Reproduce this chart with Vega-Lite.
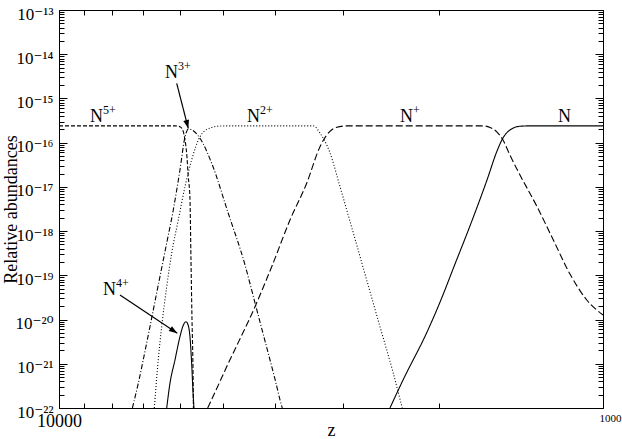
{
  "$schema": "https://vega.github.io/schema/vega-lite/v6.json",
  "width": 544,
  "height": 398,
  "autosize": {"type": "none"},
  "padding": {"left": 59, "top": 10, "right": 19, "bottom": 31},
  "background": "white",
  "config": {
    "view": {"stroke": null},
    "font": "Liberation Serif",
    "axis": {
      "grid": false,
      "domainColor": "black",
      "domainWidth": 1,
      "tickColor": "black",
      "tickWidth": 1,
      "labelColor": "black",
      "titleColor": "black",
      "labelFont": "Liberation Serif, DejaVu Serif",
      "titleFont": "Liberation Serif",
      "titleFontWeight": "normal"
    }
  },
  "datasets": {
    "curves": [
      {"ion": "N", "z": 2464, "y": 1e-22},
      {"ion": "N", "z": 2331, "y": 4.3e-22},
      {"ion": "N", "z": 2106, "y": 5.23e-21},
      {"ion": "N", "z": 1993, "y": 2.49e-20},
      {"ion": "N", "z": 1871, "y": 1.8e-19},
      {"ion": "N", "z": 1756, "y": 1.31e-18},
      {"ion": "N", "z": 1634, "y": 1.43e-17},
      {"ion": "N", "z": 1566, "y": 6.48e-17},
      {"ion": "N", "z": 1527, "y": 1.28e-16},
      {"ion": "N", "z": 1483, "y": 1.93e-16},
      {"ion": "N", "z": 1421, "y": 2.35e-16},
      {"ion": "N", "z": 1362, "y": 2.4e-16},
      {"ion": "N", "z": 1000, "y": 2.4e-16},

      {"ion": "N+", "z": 5330, "y": 1e-22},
      {"ion": "N+", "z": 5316, "y": 1.07e-22},
      {"ion": "N+", "z": 4885, "y": 1.02e-21},
      {"ion": "N+", "z": 4362, "y": 1.95e-20},
      {"ion": "N+", "z": 4064, "y": 1.57e-19},
      {"ion": "N+", "z": 3762, "y": 1.78e-18},
      {"ion": "N+", "z": 3505, "y": 1.21e-17},
      {"ion": "N+", "z": 3313, "y": 8.11e-17},
      {"ion": "N+", "z": 3220, "y": 1.49e-16},
      {"ion": "N+", "z": 3086, "y": 2.23e-16},
      {"ion": "N+", "z": 2958, "y": 2.4e-16},
      {"ion": "N+", "z": 1662, "y": 2.4e-16},
      {"ion": "N+", "z": 1613, "y": 2.2e-16},
      {"ion": "N+", "z": 1566, "y": 1.74e-16},
      {"ion": "N+", "z": 1527, "y": 1.15e-16},
      {"ion": "N+", "z": 1483, "y": 5.26e-17},
      {"ion": "N+", "z": 1421, "y": 1.86e-17},
      {"ion": "N+", "z": 1324, "y": 3.7e-18},
      {"ion": "N+", "z": 1234, "y": 6.29e-19},
      {"ion": "N+", "z": 1150, "y": 1.07e-19},
      {"ion": "N+", "z": 1071, "y": 2.77e-20},
      {"ion": "N+", "z": 1000, "y": 1.27e-20},

      {"ion": "N2+", "z": 6680, "y": 1e-22},
      {"ion": "N2+", "z": 6570, "y": 1.22e-21},
      {"ion": "N2+", "z": 6475, "y": 6.89e-21},
      {"ion": "N2+", "z": 6339, "y": 5.53e-20},
      {"ion": "N2+", "z": 6206, "y": 3.2e-19},
      {"ion": "N2+", "z": 6036, "y": 1.78e-18},
      {"ion": "N2+", "z": 5867, "y": 1.01e-17},
      {"ion": "N2+", "z": 5704, "y": 4.06e-17},
      {"ion": "N2+", "z": 5507, "y": 1.36e-16},
      {"ion": "N2+", "z": 5278, "y": 2.15e-16},
      {"ion": "N2+", "z": 5058, "y": 2.38e-16},
      {"ion": "N2+", "z": 4850, "y": 2.4e-16},
      {"ion": "N2+", "z": 3408, "y": 2.4e-16},
      {"ion": "N2+", "z": 3313, "y": 1.65e-16},
      {"ion": "N2+", "z": 3175, "y": 5.84e-17},
      {"ion": "N2+", "z": 3044, "y": 1.01e-17},
      {"ion": "N2+", "z": 2877, "y": 9.07e-19},
      {"ion": "N2+", "z": 2719, "y": 7.84e-20},
      {"ion": "N2+", "z": 2570, "y": 6.89e-21},
      {"ion": "N2+", "z": 2430, "y": 6.19e-22},
      {"ion": "N2+", "z": 2339, "y": 1e-22},

      {"ion": "N3+", "z": 7330, "y": 1e-22},
      {"ion": "N3+", "z": 7149, "y": 3.62e-22},
      {"ion": "N3+", "z": 6900, "y": 2.95e-21},
      {"ion": "N3+", "z": 6614, "y": 3.99e-20},
      {"ion": "N3+", "z": 6339, "y": 5.38e-19},
      {"ion": "N3+", "z": 6165, "y": 3.0e-18},
      {"ion": "N3+", "z": 5993, "y": 2.41e-17},
      {"ion": "N3+", "z": 5867, "y": 1.34e-16},
      {"ion": "N3+", "z": 5780, "y": 2.04e-16},
      {"ion": "N3+", "z": 5507, "y": 1.26e-16},
      {"ion": "N3+", "z": 5240, "y": 3.42e-17},
      {"ion": "N3+", "z": 4885, "y": 2.53e-18},
      {"ion": "N3+", "z": 4550, "y": 1.71e-19},
      {"ion": "N3+", "z": 4362, "y": 2.37e-20},
      {"ion": "N3+", "z": 4181, "y": 3.27e-21},
      {"ion": "N3+", "z": 4009, "y": 4.53e-22},
      {"ion": "N3+", "z": 3891, "y": 1.05e-22},
      {"ion": "N3+", "z": 3886, "y": 1e-22},

      {"ion": "N4+", "z": 6339, "y": 1e-22},
      {"ion": "N4+", "z": 6252, "y": 3.62e-22},
      {"ion": "N4+", "z": 6121, "y": 1.22e-21},
      {"ion": "N4+", "z": 5993, "y": 4.1e-21},
      {"ion": "N4+", "z": 5917, "y": 7.15e-21},
      {"ion": "N4+", "z": 5842, "y": 8.94e-21},
      {"ion": "N4+", "z": 5780, "y": 7.0e-21},
      {"ion": "N4+", "z": 5745, "y": 4.1e-21},
      {"ion": "N4+", "z": 5704, "y": 1.04e-21},
      {"ion": "N4+", "z": 5665, "y": 1.8e-22},
      {"ion": "N4+", "z": 5648, "y": 1e-22},

      {"ion": "N5+", "z": 10000, "y": 2.4e-16},
      {"ion": "N5+", "z": 6121, "y": 2.4e-16},
      {"ion": "N5+", "z": 5993, "y": 2.3e-16},
      {"ion": "N5+", "z": 5909, "y": 1.77e-16},
      {"ion": "N5+", "z": 5867, "y": 1.15e-16},
      {"ion": "N5+", "z": 5826, "y": 5.84e-17},
      {"ion": "N5+", "z": 5786, "y": 1.7e-17},
      {"ion": "N5+", "z": 5745, "y": 5.61e-18},
      {"ion": "N5+", "z": 5720, "y": 2.22e-19},
      {"ion": "N5+", "z": 5695, "y": 9.77e-21},
      {"ion": "N5+", "z": 5671, "y": 7.23e-22},
      {"ion": "N5+", "z": 5661, "y": 1e-22}
    ],
    "labels": [
      {"base": "N", "sup": "5+", "z": 8770, "y": 2.93e-16},
      {"base": "N", "sup": "3+", "z": 6385, "y": 2.9e-15},
      {"base": "N", "sup": "2+", "z": 4512, "y": 2.93e-16},
      {"base": "N", "sup": "+", "z": 2361, "y": 2.93e-16},
      {"base": "N", "sup": "", "z": 1210, "y": 2.93e-16},
      {"base": "N", "sup": "4+", "z": 8300, "y": 3.59e-20}
    ],
    "arrows": [
      {"arrow": "N3+", "end": "tail", "z": 6076, "y": 2.2e-15},
      {"arrow": "N3+", "end": "tip", "z": 5786, "y": 2.11e-16},
      {"arrow": "N4+", "end": "tail", "z": 7725, "y": 3.59e-20},
      {"arrow": "N4+", "end": "tip", "z": 6061, "y": 4.89e-21}
    ]
  },
  "resolve": {"axis": {"x": "independent", "y": "independent"}},
  "layer": [
    {
      "data": {"name": "curves"},
      "mark": {"type": "line", "interpolate": "monotone", "clip": true, "strokeWidth": 1.1, "color": "black"},
      "encoding": {
        "x": {
          "field": "z", "type": "quantitative",
          "scale": {"type": "log", "domain": [1000, 10000], "reverse": true, "nice": false},
          "axis": {
            "orient": "bottom",
            "values": [10000, 9000, 8000, 7000, 6000, 5000, 4000, 3000, 2000, 1000],
            "labelExpr": "datum.value == 10000 ? '10000' : (datum.value == 1000 ? '1000' : '')",
            "labelFontSize": {"condition": {"test": "datum.value == 1000", "value": 11}, "value": 18},
            "labelOffset": {"condition": {"test": "datum.value == 1000", "value": 7}, "value": 0},
            "tickSize": -5,
            "labelPadding": 9,
            "labelOverlap": false,
            "labelFlush": false,
            "labelBound": false,
            "title": "z",
            "titleFontSize": 18,
            "titleY": 27,
            "titleBaseline": "alphabetic"
          }
        },
        "y": {
          "field": "y", "type": "quantitative",
          "scale": {"type": "log", "domain": [1e-22, 1e-13], "nice": false},
          "axis": {
            "orient": "left",
            "values": [1e-22,2e-22,3e-22,4e-22,5e-22,6e-22,7e-22,8e-22,9e-22,
                       1e-21,2e-21,3e-21,4e-21,5e-21,6e-21,7e-21,8e-21,9e-21,
                       1e-20,2e-20,3e-20,4e-20,5e-20,6e-20,7e-20,8e-20,9e-20,
                       1e-19,2e-19,3e-19,4e-19,5e-19,6e-19,7e-19,8e-19,9e-19,
                       1e-18,2e-18,3e-18,4e-18,5e-18,6e-18,7e-18,8e-18,9e-18,
                       1e-17,2e-17,3e-17,4e-17,5e-17,6e-17,7e-17,8e-17,9e-17,
                       1e-16,2e-16,3e-16,4e-16,5e-16,6e-16,7e-16,8e-16,9e-16,
                       1e-15,2e-15,3e-15,4e-15,5e-15,6e-15,7e-15,8e-15,9e-15,
                       1e-14,2e-14,3e-14,4e-14,5e-14,6e-14,7e-14,8e-14,9e-14,
                       1e-13],
            "labelExpr": "abs(log(datum.value)/LN10 - round(log(datum.value)/LN10)) < 0.01 ? '10⁻' + ['⁰','¹','²','³','⁴','⁵','⁶','⁷','⁸','⁹'][floor(-round(log(datum.value)/LN10)/10)] + ['⁰','¹','²','³','⁴','⁵','⁶','⁷','⁸','⁹'][(-round(log(datum.value)/LN10)) % 10] : ''",
            "tickSize": {"condition": {"test": "abs(log(datum.value)/LN10 - round(log(datum.value)/LN10)) < 0.01", "value": -8}, "value": -5},
            "labelPadding": 14,
            "labelFontSize": 17,
            "labelOffset": 4,
            "labelOverlap": false,
            "labelFlush": false,
            "labelBound": false,
            "title": "Relative abundances",
            "titleFontSize": 18,
            "titleX": -43,
            "titleBaseline": "alphabetic"
          }
        },
        "strokeDash": {
          "field": "ion", "type": "nominal",
          "scale": {
            "domain": ["N", "N+", "N2+", "N3+", "N4+", "N5+"],
            "range": [[1, 0], [7, 3], [1, 2], [5, 2, 1, 2], [1, 0], [4, 2]]
          },
          "legend": null
        }
      }
    },
    {
      "data": {"name": "curves"},
      "mark": {"type": "point", "opacity": 0},
      "encoding": {
        "x": {
          "field": "z", "type": "quantitative",
          "axis": {
            "orient": "top",
            "values": [10000, 9000, 8000, 7000, 6000, 5000, 4000, 3000, 2000, 1000],
            "labels": false,
            "tickSize": -5,
            "title": null
          }
        },
        "y": {
          "field": "y", "type": "quantitative",
          "axis": {
            "orient": "right",
            "values": [1e-22,2e-22,3e-22,4e-22,5e-22,6e-22,7e-22,8e-22,9e-22,
                       1e-21,2e-21,3e-21,4e-21,5e-21,6e-21,7e-21,8e-21,9e-21,
                       1e-20,2e-20,3e-20,4e-20,5e-20,6e-20,7e-20,8e-20,9e-20,
                       1e-19,2e-19,3e-19,4e-19,5e-19,6e-19,7e-19,8e-19,9e-19,
                       1e-18,2e-18,3e-18,4e-18,5e-18,6e-18,7e-18,8e-18,9e-18,
                       1e-17,2e-17,3e-17,4e-17,5e-17,6e-17,7e-17,8e-17,9e-17,
                       1e-16,2e-16,3e-16,4e-16,5e-16,6e-16,7e-16,8e-16,9e-16,
                       1e-15,2e-15,3e-15,4e-15,5e-15,6e-15,7e-15,8e-15,9e-15,
                       1e-14,2e-14,3e-14,4e-14,5e-14,6e-14,7e-14,8e-14,9e-14,
                       1e-13],
            "labels": false,
            "tickSize": {"condition": {"test": "abs(log(datum.value)/LN10 - round(log(datum.value)/LN10)) < 0.01", "value": -8}, "value": -5},
            "title": null
          }
        }
      }
    },
    {
      "data": {"name": "labels"},
      "mark": {"type": "text", "align": "left", "baseline": "alphabetic", "font": "Liberation Serif", "fontSize": 18, "color": "black"},
      "encoding": {
        "x": {"field": "z", "type": "quantitative", "axis": null},
        "y": {"field": "y", "type": "quantitative", "axis": null},
        "text": {"field": "base", "type": "nominal"}
      }
    },
    {
      "data": {"name": "labels"},
      "mark": {"type": "text", "align": "left", "baseline": "alphabetic", "font": "Liberation Serif", "fontSize": 12, "color": "black", "dx": 13, "dy": -8},
      "encoding": {
        "x": {"field": "z", "type": "quantitative", "axis": null},
        "y": {"field": "y", "type": "quantitative", "axis": null},
        "text": {"field": "sup", "type": "nominal"}
      }
    },
    {
      "data": {"name": "arrows"},
      "mark": {"type": "line", "color": "black", "strokeWidth": 1.2},
      "encoding": {
        "x": {"field": "z", "type": "quantitative", "axis": null},
        "y": {"field": "y", "type": "quantitative", "axis": null},
        "detail": {"field": "arrow", "type": "nominal"}
      }
    },
    {
      "data": {"name": "arrows"},
      "transform": [{"filter": "datum.arrow == 'N3+' && datum.end == 'tip'"}],
      "mark": {"type": "point", "shape": "M0,0L-2,-0.7L-2,0.7Z", "filled": true, "color": "black", "opacity": 1, "size": 70, "angle": 75.5},
      "encoding": {
        "x": {"field": "z", "type": "quantitative", "axis": null},
        "y": {"field": "y", "type": "quantitative", "axis": null}
      }
    },
    {
      "data": {"name": "arrows"},
      "transform": [{"filter": "datum.arrow == 'N4+' && datum.end == 'tip'"}],
      "mark": {"type": "point", "shape": "M0,0L-2,-0.7L-2,0.7Z", "filled": true, "color": "black", "opacity": 1, "size": 70, "angle": 33.8},
      "encoding": {
        "x": {"field": "z", "type": "quantitative", "axis": null},
        "y": {"field": "y", "type": "quantitative", "axis": null}
      }
    }
  ]
}
